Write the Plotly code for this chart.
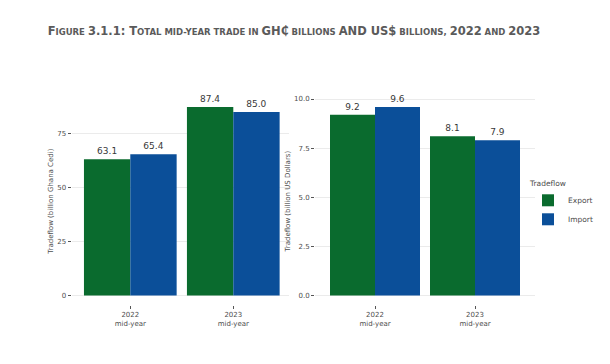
import plotly.graph_objects as go

periods = ["2022<br>mid-year", "2023<br>mid-year"]
export_ghs = [63.1, 87.4]
import_ghs = [65.4, 85.0]
export_usd = [9.2, 8.1]
import_usd = [9.6, 7.9]
ticks_ghs = [0, 25, 50, 75]
ticks_usd = [0.0, 2.5, 5.0, 7.5, 10.0]
tick_text_usd = ["0.0", "2.5", "5.0", "7.5", "10.0"]

GREEN = "#0a6b2e"
BLUE = "#0b4f99"
TXT = "#4d4d4d"
FONT = "DejaVu Sans"

fig = go.Figure()
for name, vals, col, show in [("Export", export_ghs, GREEN, True), ("Import", import_ghs, BLUE, True)]:
    fig.add_trace(go.Bar(x=periods, y=vals, name=name, marker=dict(color=col, line=dict(width=0)),
                         text=[f"{v:.1f}" for v in vals], textposition="outside", cliponaxis=False,
                         textfont=dict(size=9, color="#383838", family=FONT),
                         xaxis="x", yaxis="y", showlegend=show, legendgroup=name))
for name, vals, col in [("Export", export_usd, GREEN), ("Import", import_usd, BLUE)]:
    fig.add_trace(go.Bar(x=periods, y=vals, name=name, marker=dict(color=col, line=dict(width=0)),
                         text=[f"{v:.1f}" for v in vals], textposition="outside", cliponaxis=False,
                         textfont=dict(size=9, color="#383838", family=FONT),
                         xaxis="x2", yaxis="y2", showlegend=False, legendgroup=name))

W, H = 610, 364
def px_x(p):
    return p / W
def px_y(p):
    return 1 - p / H

ydom = [px_y(304.5), px_y(96)]
max_ghs = max(export_ghs + import_ghs)
max_usd = max(export_usd + import_usd)

axis_common = dict(showline=False, zeroline=False, ticks="outside", ticklen=3, tickwidth=1,
                   tickcolor="#555555", tickfont=dict(size=7, color=TXT, family=FONT))

BIG = "font-size:11.5px"
title_html = (
    f"<b><span style='{BIG}'>F</span>IGURE <span style='{BIG}'>3.1.1: T</span>OTAL MID-YEAR TRADE IN "
    f"<span style='{BIG}'>GH₵</span> BILLIONS <span style='{BIG}'>AND US$</span> BILLIONS, "
    f"<span style='{BIG}'>2022</span> AND <span style='{BIG}'>2023</span></b>"
)

fig.update_layout(
    width=W, height=H, margin=dict(l=0, r=0, t=0, b=0),
    paper_bgcolor="white", plot_bgcolor="white",
    barmode="group", bargap=0.1, bargroupgap=0,
    font=dict(family=FONT, color=TXT),
    title=dict(text=title_html, x=294 / W, xanchor="center", y=px_y(32), yanchor="middle",
               font=dict(size=8.5, color="#5a5a5a", family=FONT)),
    xaxis=dict(domain=[px_x(71.6), px_x(288.9)], range=[-0.57, 1.54], anchor="y",
               showgrid=False, **axis_common),
    yaxis=dict(domain=ydom, range=[-0.05 * max_ghs, 1.05 * max_ghs], anchor="x",
               tickvals=ticks_ghs, showgrid=True, gridcolor="#ebebeb", gridwidth=1,
               title=dict(text="Tradeflow (billion Ghana Cedi)", font=dict(size=7, color=TXT, family=FONT), standoff=2),
               **axis_common),
    xaxis2=dict(domain=[px_x(315), px_x(535)], range=[-0.6, 1.6], anchor="y2",
                showgrid=False, **axis_common),
    yaxis2=dict(domain=ydom, range=[-0.05 * max_usd, 1.05 * max_usd], anchor="x2",
                tickvals=ticks_usd, ticktext=tick_text_usd, showgrid=True, gridcolor="#ebebeb", gridwidth=1,
                title=dict(text="Tradeflow (billion US Dollars)", font=dict(size=7, color=TXT, family=FONT), standoff=2),
                **axis_common),
    legend=dict(title=dict(text="Tradeflow", font=dict(size=7.5, color=TXT, family=FONT)),
                font=dict(size=7.5, color=TXT, family=FONT), x=px_x(528), xanchor="left",
                y=px_y(175), yanchor="top", bgcolor="rgba(0,0,0,0)", itemwidth=30,
                tracegroupgap=0),
)

fig.write_html("out.html")
